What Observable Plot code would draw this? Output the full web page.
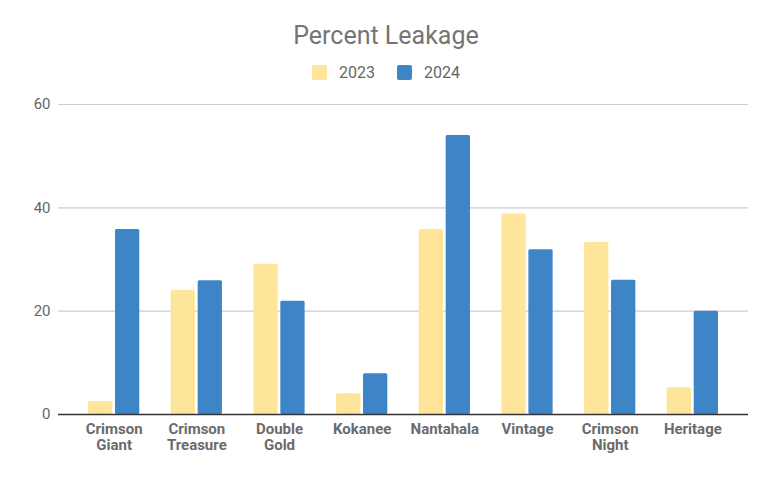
<!DOCTYPE html>
<html>
<head>
<meta charset="utf-8">
<script src="https://cdn.jsdelivr.net/npm/d3@7"></script>
<script src="https://cdn.jsdelivr.net/npm/@observablehq/plot@0.6"></script>
<style>
  html, body { margin: 0; padding: 0; background: #fff; }
  #wrap { width: 772px; height: 477px; font-family: Roboto, sans-serif; overflow: hidden; }
  #title { height: 24px; line-height: 24px; padding-top: 24px; text-align: center; font-size: 25px; color: #757575; }
  #legend { margin-top: 16px; height: 16px; display: flex; justify-content: center; align-items: center; font-size: 16px; color: #666; }
  .sw { width: 15px; height: 15px; border-radius: 2px; margin-right: 12px; }
  .item { display: flex; align-items: center; margin: 0 11px; }
  #chart { margin-top: 8px; }
</style>
</head>
<body>
<div id="wrap">
  <div id="title">Percent Leakage</div>
  <div id="legend"></div>
  <div id="chart"></div>
</div>
<script>
const categories = ["Crimson\nGiant", "Crimson\nTreasure", "Double\nGold", "Kokanee", "Nantahala", "Vintage", "Crimson\nNight", "Heritage"];
const values2023 = [2.5, 24, 29.1, 4, 35.8, 38.8, 33.3, 5.2];
const values2024 = [35.8, 25.9, 21.9, 7.9, 54, 31.9, 26, 20];
const seriesNames = ["2023", "2024"];
const seriesColors = ["#FFE599", "#3D85C6"];
const yTicks = [0, 20, 40, 60];

// legend
const legend = document.getElementById("legend");
seriesNames.forEach((s, i) => {
  const it = document.createElement("div");
  it.className = "item";
  const sw = document.createElement("div");
  sw.className = "sw";
  sw.style.background = seriesColors[i];
  const t = document.createElement("span");
  t.textContent = s;
  it.appendChild(sw); it.appendChild(t);
  legend.appendChild(it);
});

const data = [];
categories.forEach((c, i) => {
  data.push({cat: c, year: "2023", value: values2023[i]});
  data.push({cat: c, year: "2024", value: values2024[i]});
});

const width = 772, height = 389;
const marginLeft = 58, marginRight = 24, marginTop = 16, marginBottom = 63;
const paddingInner = 0.38, paddingOuter = 0.363;
const step = (width - marginLeft - marginRight) / (categories.length - paddingInner + 2 * paddingOuter);
const bandwidth = step * (1 - paddingInner);
const gap = 2.7;
const half = bandwidth / 2 + gap / 2;

const chart = Plot.plot({
  width, height, marginLeft, marginRight, marginTop, marginBottom,
  style: {fontFamily: "Roboto, sans-serif", background: "#fff", overflow: "visible"},
  x: {domain: categories, paddingInner, paddingOuter, align: 0.5, round: false, label: null},
  y: {domain: [0, 60], label: null},
  color: {domain: seriesNames, range: seriesColors},
  marks: [
    Plot.ruleY(yTicks.filter(d => d !== 0), {stroke: "#cccccc", strokeWidth: 1.2}),
    Plot.barY(data.filter(d => d.year === "2023"), {x: "cat", y: "value", fill: "year", insetRight: half, rx: 1.5}),
    Plot.barY(data.filter(d => d.year === "2024"), {x: "cat", y: "value", fill: "year", insetLeft: half, rx: 1.5}),
    Plot.ruleY([0], {stroke: "#333333", strokeWidth: 1.5}),
    Plot.axisY(yTicks, {tickSize: 0, tickPadding: 8, fontSize: 15, fill: "#666", label: null}),
    Plot.axisX({tickSize: 0, tickPadding: 9, fontSize: 15, fontWeight: "bold", fill: "#6b6b6b", lineHeight: 1.02, label: null})
  ]
});
document.getElementById("chart").appendChild(chart);
</script>
</body>
</html>
